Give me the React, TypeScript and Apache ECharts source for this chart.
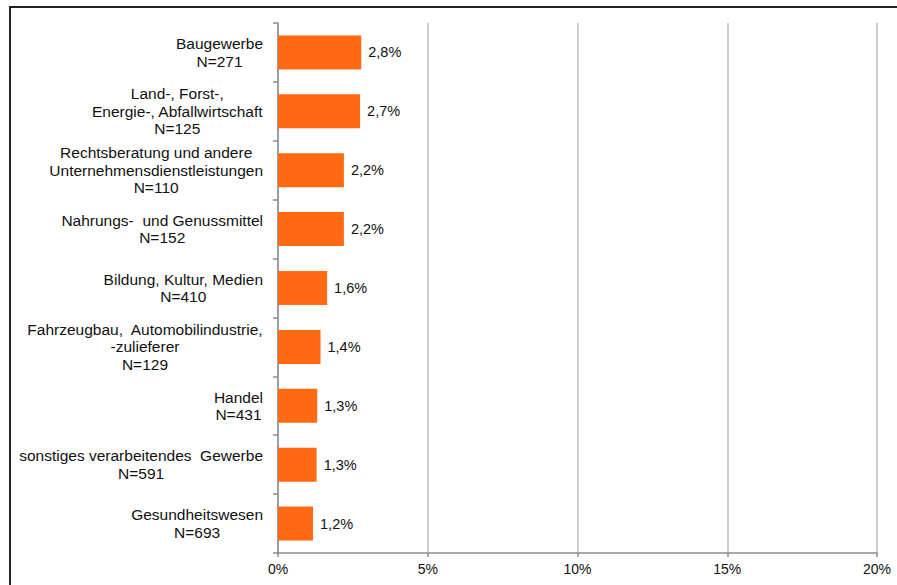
import React, { useEffect, useRef } from "react";
import * as echarts from "echarts";

const categories: string[] = [
  "Baugewerbe",
  "Land-, Forst-,\nEnergie-, Abfallwirtschaft",
  "Rechtsberatung und andere\nUnternehmensdienstleistungen",
  "Nahrungs-  und Genussmittel",
  "Bildung, Kultur, Medien",
  "Fahrzeugbau,  Automobilindustrie,\n-zulieferer",
  "Handel",
  "sonstiges verarbeitendes  Gewerbe",
  "Gesundheitswesen",
];
const sampleSizes: number[] = [271, 125, 110, 152, 410, 129, 431, 591, 693];
const shares: number[] = [2.78, 2.74, 2.2, 2.2, 1.64, 1.42, 1.31, 1.29, 1.17];
const xTicks = { min: 0, max: 20, interval: 5 };

const FONT = "'Liberation Sans', Arial, sans-serif";

export default function App() {
  const ref = useRef<HTMLDivElement>(null);
  useEffect(() => {
    if (!ref.current) return;
    const chart = echarts.init(ref.current, null, { renderer: "svg" });
    const labels = categories.map((c, i) => `${c}\nN=${sampleSizes[i]}`);
    chart.setOption({
      animation: false,
      backgroundColor: "#ffffff",
      textStyle: { fontFamily: FONT },
      grid: { left: 278, right: 20, top: 23, bottom: 32, containLabel: false },
      graphic: [
        {
          type: "rect",
          shape: { x: 10, y: 7, width: 1200, height: 1200 },
          style: { fill: "none", stroke: "#222", lineWidth: 2 },
          silent: true,
        },
      ],
      xAxis: {
        type: "value",
        min: xTicks.min,
        max: xTicks.max,
        interval: xTicks.interval,
        axisLine: { show: true, lineStyle: { color: "#8c8c8c", width: 1.5 } },
        axisTick: { show: true, length: 4, lineStyle: { color: "#8c8c8c", width: 1.5 } },
        splitLine: { show: true, lineStyle: { color: "#bdbdbd", width: 1.5 } },
        axisLabel: {
          formatter: "{value}%",
          fontSize: 14,
          color: "#111",
          margin: 9,
          fontFamily: FONT,
        },
      },
      yAxis: {
        type: "category",
        inverse: true,
        data: labels,
        axisLine: { show: true, lineStyle: { color: "#8c8c8c", width: 1.5 } },
        axisTick: { show: true, length: 5, lineStyle: { color: "#8c8c8c", width: 1.5 } },
        axisLabel: {
          margin: 15,
          align: "right",
          lineHeight: 17.5,
          color: "#111",
          fontFamily: FONT,
          fontSize: 15.5,
          formatter: (v: string) =>
            v
              .split("\n")
              .map((l) => `{c|${l}}`)
              .join("\n"),
          rich: {
            c: {
              align: "center",
              fontSize: 15.5,
              lineHeight: 17.5,
              color: "#111",
              fontFamily: FONT,
            },
          },
        },
      },
      series: [
        {
          type: "bar",
          data: shares,
          barWidth: 34,
          itemStyle: { color: "#ff6a12" },
          label: {
            show: true,
            position: "right",
            distance: 7,
            fontSize: 14.5,
            color: "#111",
            fontFamily: FONT,
            formatter: (p: any) => `${(p.value as number).toFixed(1).replace(".", ",")}%`,
          },
        },
      ],
    });
    return () => chart.dispose();
  }, []);
  return (
    <div
      ref={ref}
      style={{ position: "fixed", left: 0, top: 0, width: 897, height: 585, background: "#fff" }}
    />
  );
}
